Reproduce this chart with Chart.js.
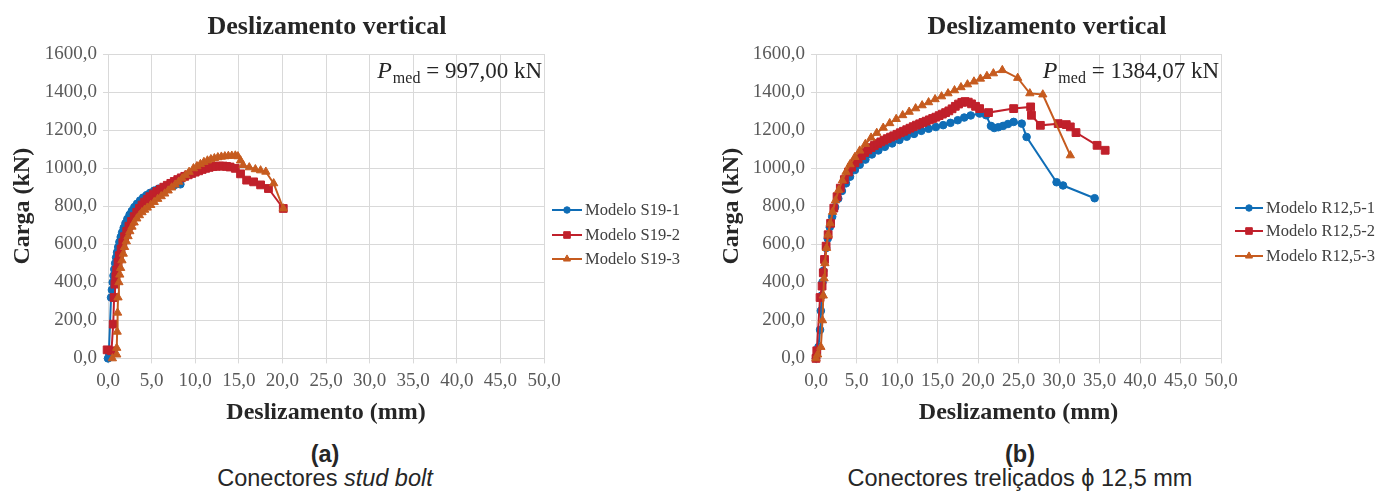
<!DOCTYPE html>
<html><head><meta charset="utf-8">
<script src="https://cdn.jsdelivr.net/npm/chart.js@4.4.1/dist/chart.umd.min.js"></script>
<style>
html,body{margin:0;padding:0;background:#fff;width:1376px;height:492px;overflow:hidden;position:relative;font-family:'Liberation Sans',Arial,sans-serif}
canvas{position:absolute;top:0}
#cA{left:0}
#cB{left:709px}
.cap{position:absolute;text-align:center;color:#262626;font-size:23.5px;line-height:24px;width:500px;white-space:nowrap}
</style></head><body>
<canvas id="cA" width="688" height="437"></canvas>
<canvas id="cB" width="667" height="437"></canvas>
<div class="cap" style="left:75px;top:442px;font-weight:bold">(a)</div>
<div class="cap" style="left:75px;top:466px">Conectores <i>stud bolt</i></div>
<div class="cap" style="left:770px;top:442px;font-weight:bold">(b)</div>
<div class="cap" style="left:770px;top:466px">Conectores treliçados ϕ 12,5 mm</div>
<script>
// ---- text ----
const chartTitle = 'Deslizamento vertical';
const xAxisTitle = 'Deslizamento (mm)';
const yAxisTitle = 'Carga (kN)';
const namesA = ['Modelo S19-1', 'Modelo S19-2', 'Modelo S19-3'];
const namesB = ['Modelo R12,5-1', 'Modelo R12,5-2', 'Modelo R12,5-3'];
const pmedA = '997,00 kN';
const pmedB = '1384,07 kN';
// ---- axes ----
const xMin = 0, xMax = 50, xStep = 5;
const yMin = 0, yMax = 1600, yStep = 200;
// ---- data [deslizamento mm, carga kN] ----
const S19_1 = [[0,0],[0.1,30],[0.35,320],[0.45,360],[0.54,400],[0.63,435],[0.72,468],[0.82,500],[0.93,530],[1.04,558],[1.17,585],[1.31,612],[1.46,638],[1.62,662],[1.8,686],[2.0,710],[2.22,733],[2.47,755],[2.73,775],[3.02,795],[3.33,813],[3.68,830],[4.03,845],[4.43,858],[4.83,870],[5.3,882],[5.8,892],[6.4,900],[7.0,906],[7.65,911],[8.3,915]];
const S19_2 = [[-0.2,0],[-0.1,45],[0.4,40],[0.6,180],[0.7,320],[0.8,390],[0.9,430],[1.0,465],[1.15,505],[1.3,540],[1.5,575],[1.7,608],[1.9,640],[2.15,668],[2.4,695],[2.7,720],[3.0,745],[3.3,768],[3.6,788],[3.9,806],[4.2,822],[4.5,836],[4.8,850],[5.2,864],[5.6,877],[6.0,889],[6.4,900],[6.8,910],[7.2,920],[7.6,930],[8.0,940],[8.4,949],[8.8,957],[9.2,965],[9.6,972],[10.0,979],[10.4,986],[10.8,993],[11.2,999],[11.6,1004],[12.0,1008],[12.4,1010],[12.8,1011],[13.2,1011],[13.6,1009],[14.0,1006],[14.6,999],[15.2,970],[15.9,937],[16.7,928],[17.5,912],[18.4,893],[20.1,788]];
const S19_3 = [[0.5,0],[1.0,20],[1.0,55],[1.05,140],[1.1,240],[1.15,320],[1.25,400],[1.35,440],[1.45,475],[1.6,515],[1.75,550],[1.9,585],[2.1,615],[2.3,642],[2.5,668],[2.75,692],[3.0,714],[3.3,735],[3.6,752],[3.9,768],[4.2,781],[4.5,792],[4.9,806],[5.3,822],[5.7,838],[6.1,852],[6.5,866],[6.9,882],[7.3,898],[7.7,913],[8.1,928],[8.5,946],[8.9,963],[9.3,980],[9.8,999],[10.2,1010],[10.6,1021],[11.0,1032],[11.4,1040],[11.8,1047],[12.2,1052],[12.6,1057],[13.0,1060],[13.4,1062],[13.8,1064],[14.2,1065],[14.6,1066],[14.9,1062],[15.2,1040],[15.5,1016],[16.2,1004],[16.9,994],[17.5,988],[18.1,981],[19.0,920],[20.1,788]];
const R125_1 = [[0,0],[0.1,20],[0.3,60],[0.5,150],[0.6,250],[0.7,330],[0.8,400],[0.9,460],[1.05,520],[1.25,580],[1.45,630],[1.7,690],[2.0,745],[2.35,795],[2.75,840],[3.2,880],[3.7,920],[4.2,955],[4.8,990],[5.4,1018],[6.1,1045],[6.9,1072],[7.7,1093],[8.5,1112],[9.4,1130],[10.3,1148],[11.2,1165],[12.1,1180],[13.0,1196],[13.9,1207],[14.8,1216],[15.7,1226],[16.6,1238],[17.5,1252],[18.3,1266],[19.1,1277],[20.2,1287],[21.0,1278],[21.6,1222],[22.0,1211],[22.5,1215],[23.1,1222],[23.7,1232],[24.4,1243],[25.4,1234],[26.0,1164],[29.7,926],[30.5,909],[34.4,842]];
const R125_2 = [[0,0],[0.1,40],[0.5,320],[0.75,380],[0.9,450],[1.05,520],[1.25,590],[1.5,650],[1.8,710],[2.2,790],[2.6,850],[3.0,895],[3.5,940],[4.0,980],[4.4,1005],[4.8,1028],[5.2,1048],[5.6,1066],[6.0,1082],[6.4,1096],[6.8,1108],[7.2,1119],[7.6,1129],[8.0,1138],[8.4,1147],[8.8,1155],[9.2,1163],[9.6,1170],[10.0,1178],[10.4,1186],[10.8,1194],[11.2,1202],[11.6,1210],[12.0,1218],[12.4,1226],[12.8,1233],[13.2,1240],[13.6,1247],[14.0,1254],[14.4,1261],[14.8,1268],[15.2,1276],[15.6,1284],[16.0,1292],[16.4,1301],[16.8,1312],[17.2,1325],[17.6,1337],[18.0,1346],[18.4,1350],[18.8,1347],[19.2,1338],[19.7,1325],[20.2,1313],[21.3,1292],[24.4,1313],[26.5,1322],[26.6,1278],[27.7,1225],[29.9,1234],[30.9,1229],[31.4,1217],[32.1,1187],[34.7,1120],[35.7,1094]];
const R125_3 = [[0,0],[0.2,20],[0.6,60],[0.8,200],[0.9,330],[1.0,420],[1.1,500],[1.3,580],[1.5,650],[1.75,710],[2.05,770],[2.4,830],[2.8,885],[3.25,935],[3.7,980],[4.2,1020],[4.8,1058],[5.4,1092],[6.1,1127],[6.8,1160],[7.5,1185],[8.3,1212],[9.1,1236],[9.9,1258],[10.7,1278],[11.5,1296],[12.3,1314],[13.1,1330],[13.9,1346],[14.7,1362],[15.5,1377],[16.3,1393],[17.1,1409],[17.9,1425],[18.7,1440],[19.5,1455],[20.3,1470],[21.1,1484],[21.9,1498],[23.0,1515],[24.9,1474],[26.4,1393],[28.0,1387],[31.4,1067]];

// ---- style ----
const colors = ['#0F6DB6', '#C0202B', '#C65B1F'];
const markers = ['circle', 'rect', 'triangle'];
const radii = [3.8, 5.5, 4.8];
const SERIF = '"Liberation Serif", "Times New Roman", serif';
const fmt = v => Number(v).toFixed(1).replace('.', ',');

function pts(arr) { return arr.map(p => ({x: p[0], y: p[1]})); }

function drawMarker(ctx, style, x, y, r) {
  ctx.beginPath();
  if (style === 'circle') { ctx.arc(x, y, r, 0, Math.PI * 2); }
  else if (style === 'rect') { const s = r * Math.SQRT1_2; ctx.rect(x - s, y - s, 2 * s, 2 * s); }
  else { const w = r * 0.866; ctx.moveTo(x, y - r); ctx.lineTo(x + w, y + r * 0.5); ctx.lineTo(x - w, y + r * 0.5); ctx.closePath(); }
  ctx.fill(); ctx.stroke();
}

const decor = {
  id: 'decor',
  afterDraw(chart, args, o) {
    const ctx = chart.ctx, a = chart.chartArea;
    ctx.save();
    // title
    ctx.fillStyle = '#262626';
    ctx.font = 'bold 26px ' + SERIF;
    ctx.textAlign = 'center'; ctx.textBaseline = 'middle';
    ctx.fillText(o.title, o.titleX, 27);
    // P_med annotation
    ctx.textAlign = 'left'; ctx.textBaseline = 'alphabetic';
    const rest = ' = ' + o.pmed;
    ctx.font = '23px ' + SERIF; const wRest = ctx.measureText(rest).width;
    ctx.font = '16px ' + SERIF; const wSub = ctx.measureText('med').width;
    ctx.font = 'italic 24px ' + SERIF; const wP = ctx.measureText('P').width;
    let x = a.right - 2 - wRest - wSub - wP - 1;
    const by = a.top + 24;
    ctx.fillStyle = '#262626';
    ctx.fillText('P', x, by); x += wP + 1;
    ctx.font = '16px ' + SERIF; ctx.fillText('med', x, by + 5); x += wSub;
    ctx.font = '23px ' + SERIF; ctx.fillText(rest, x, by);
    // legend
    ctx.textBaseline = 'middle';
    ctx.font = '16.5px ' + SERIF;
    chart.data.datasets.forEach((ds, i) => {
      const y = o.legendY[i];
      const x0 = a.right + o.legendDx;
      ctx.strokeStyle = ds.borderColor; ctx.fillStyle = ds.borderColor; ctx.lineWidth = 2;
      ctx.beginPath(); ctx.moveTo(x0, y); ctx.lineTo(x0 + o.lineLen, y); ctx.stroke();
      ctx.lineWidth = 1;
      drawMarker(ctx, ds.pointStyle, x0 + o.lineLen / 2, y, ds.pointRadius * 0.85);
      ctx.fillStyle = '#404040';
      ctx.fillText(ds.label, x0 + o.lineLen + 3, y + 1);
    });
    ctx.restore();
  }
};

function makeChart(id, names, series, yWidth, padRight, decorOpts) {
  const datasets = series.map((s, i) => ({
    label: names[i],
    data: pts(s),
    borderColor: colors[i],
    backgroundColor: colors[i],
    pointBackgroundColor: colors[i],
    pointBorderColor: colors[i],
    pointStyle: markers[i],
    pointRadius: radii[i],
    pointBorderWidth: 1,
    borderWidth: 2,
    tension: 0,
    showLine: true,
    clip: 10,
    order: 3 - i
  }));
  return new Chart(document.getElementById(id), {
    type: 'line',
    data: { datasets },
    plugins: [decor],
    options: {
      responsive: false, animation: false, devicePixelRatio: 1,
      layout: { padding: { top: 54, right: padRight, bottom: 4, left: 0 } },
      plugins: { legend: { display: false }, title: { display: false }, tooltip: { enabled: false }, decor: decorOpts },
      scales: {
        x: {
          type: 'linear', min: xMin, max: xMax,
          ticks: { stepSize: xStep, callback: fmt, color: '#595959', padding: 6, maxRotation: 0, font: { family: SERIF, size: 19 } },
          grid: { color: '#d9d9d9', tickLength: 5, lineWidth: 1 },
          border: { color: '#d9d9d9' },
          title: { display: true, text: xAxisTitle, color: '#262626', padding: { top: 0, bottom: 6 }, font: { family: SERIF, size: 24, weight: 'bold' } }
        },
        y: {
          type: 'linear', min: yMin, max: yMax,
          ticks: { stepSize: yStep, callback: fmt, color: '#595959', padding: 6, font: { family: SERIF, size: 19 } },
          grid: { color: '#d9d9d9', tickLength: 5, lineWidth: 1 },
          border: { color: '#d9d9d9' },
          title: { display: true, text: yAxisTitle, color: '#262626', padding: { top: 8, bottom: 0 }, font: { family: SERIF, size: 24, weight: 'bold' } },
          afterFit(scale) { scale.width = yWidth; }
        }
      }
    }
  });
}

makeChart('cA', namesA, [S19_1, S19_2, S19_3], 108, 144,
  { title: chartTitle, titleX: 327, pmed: pmedA, legendY: [210, 235, 259], legendDx: 8, lineLen: 30 });
makeChart('cB', namesB, [R125_1, R125_2, R125_3], 107, 155,
  { title: chartTitle, titleX: 338, pmed: pmedB, legendY: [208, 231, 256], legendDx: 14, lineLen: 28 });
</script>
</body></html>
